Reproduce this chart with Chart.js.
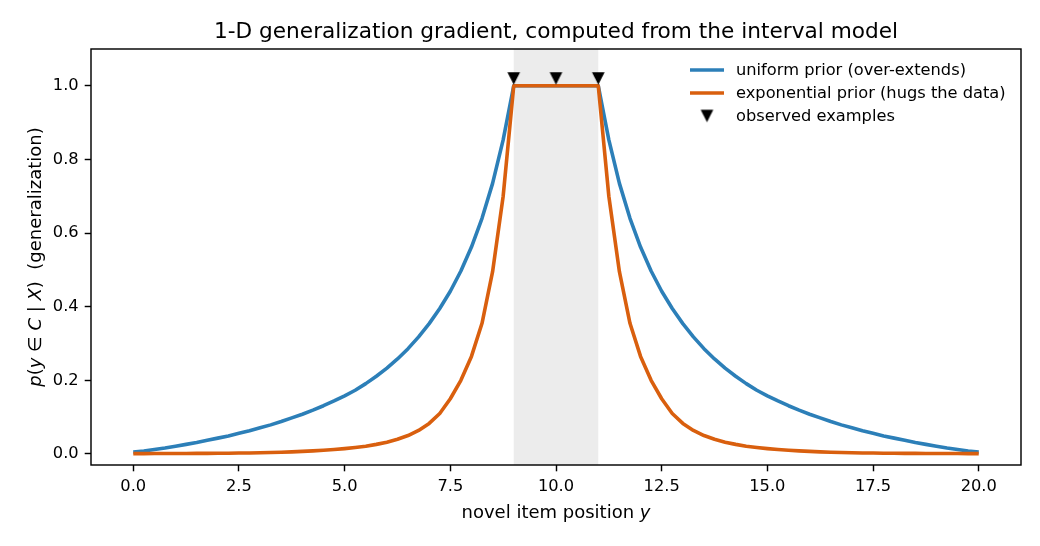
<!DOCTYPE html>
<html><head><meta charset="utf-8">
<script src="https://cdn.jsdelivr.net/npm/chart.js@4.4.1/dist/chart.umd.min.js"></script>
<style>html,body{margin:0;padding:0;background:#fff;}#wrap{width:1040px;height:546px;}</style>
</head><body><div id="wrap"><canvas id="c" width="1040" height="546"></canvas></div>
<script>
// ---- data ----
const positions = [0,0.25,0.5,0.75,1,1.25,1.5,1.75,2,2.25,2.5,2.75,3,3.25,3.5,3.75,4,4.25,4.5,4.75,5,5.25,5.5,5.75,6,6.25,6.5,6.75,7,7.25,7.5,7.75,8,8.25,8.5,8.75,9,9.25,9.5,9.75,10,10.25,10.5,10.75,11,11.25,11.5,11.75,12,12.25,12.5,12.75,13,13.25,13.5,13.75,14,14.25,14.5,14.75,15,15.25,15.5,15.75,16,16.25,16.5,16.75,17,17.25,17.5,17.75,18,18.25,18.5,18.75,19,19.25,19.5,19.75,20];
const uniformPrior = [0.005,0.008,0.012,0.016,0.021,0.026,0.031,0.037,0.043,0.049,0.056,0.063,0.071,0.079,0.088,0.098,0.108,0.119,0.131,0.144,0.158,0.173,0.191,0.211,0.233,0.258,0.286,0.318,0.354,0.395,0.442,0.497,0.562,0.640,0.735,0.853,1.0,
  1,1,1,1,1,1,1,
  1.0,0.853,0.735,0.640,0.562,0.497,0.442,0.395,0.354,0.318,0.286,0.258,0.233,0.211,0.191,0.173,0.158,0.144,0.131,0.119,0.108,0.098,0.088,0.079,0.071,0.063,0.056,0.049,0.043,0.037,0.031,0.026,0.021,0.016,0.012,0.008,0.005];
const exponentialPrior = [0.001,0.001,0.0011,0.0012,0.0013,0.0014,0.0015,0.0017,0.0019,0.0021,0.0024,0.0028,0.0033,0.0039,0.0047,0.0057,0.0069,0.0083,0.010,0.012,0.0145,0.0175,0.021,0.026,0.032,0.040,0.050,0.064,0.083,0.110,0.150,0.200,0.265,0.355,0.495,0.700,1.0,
  1,1,1,1,1,1,1,
  1.0,0.700,0.495,0.355,0.265,0.200,0.150,0.110,0.083,0.064,0.050,0.040,0.032,0.026,0.021,0.0175,0.0145,0.012,0.010,0.0083,0.0069,0.0057,0.0047,0.0039,0.0033,0.0028,0.0024,0.0021,0.0019,0.0017,0.0015,0.0014,0.0013,0.0012,0.0011,0.001,0.001];
const exampleX = [9, 10, 11];
const exampleY = [1.02, 1.02, 1.02];
const spanRange = [9, 11];
const xTicks = [0, 2.5, 5, 7.5, 10, 12.5, 15, 17.5, 20];
const yTicks = [0, 0.2, 0.4, 0.6, 0.8, 1.0];
const seriesLabels = ['uniform prior (over-extends)', 'exponential prior (hugs the data)', 'observed examples'];
const titleText = '1-D generalization gradient, computed from the interval model';

// ---- styles ----
const FONT = '"DejaVu Sans"';
const BLUE = '#2c7fb8', ORANGE = '#d95f0e';
const LW = 3.6;

function makeTri(s) {
  const c = document.createElement('canvas');
  const n = Math.ceil(s) + 2; c.width = n; c.height = n;
  const g = c.getContext('2d'); const h = n / 2;
  g.fillStyle = '#000'; g.beginPath();
  g.moveTo(h - s / 2, h - s / 2); g.lineTo(h + s / 2, h - s / 2); g.lineTo(h, h + s / 2);
  g.closePath(); g.fill();
  return c;
}
const tri = makeTri(12.6);

function drawRich(ctx, segs, size, x, y, rot) {
  ctx.save(); ctx.translate(x, y); ctx.rotate(rot);
  ctx.textBaseline = 'alphabetic'; ctx.textAlign = 'left'; ctx.fillStyle = '#000';
  let total = 0; const ws = [];
  for (const s of segs) { ctx.font = (s.i ? 'italic ' : '') + size + 'px ' + FONT; const w = ctx.measureText(s.t).width; ws.push(w); total += w; }
  let cx = -total / 2;
  segs.forEach((s, k) => { ctx.font = (s.i ? 'italic ' : '') + size + 'px ' + FONT; ctx.fillText(s.t, cx, 0); cx += ws[k]; });
  ctx.restore();
}

const deco = {
  id: 'deco',
  beforeDatasetsDraw(chart) {
    const { ctx, chartArea: a, scales: { x } } = chart;
    ctx.save();
    ctx.fillStyle = 'rgba(128,128,128,0.15)';
    const x0 = x.getPixelForValue(spanRange[0]), x1 = x.getPixelForValue(spanRange[1]);
    ctx.fillRect(x0, a.top, x1 - x0, a.bottom - a.top);
    ctx.restore();
  },
  afterDraw(chart) {
    const { ctx, chartArea: a } = chart;
    ctx.save();
    ctx.strokeStyle = '#000'; ctx.lineWidth = 1.44;
    ctx.strokeRect(a.left, a.top, a.right - a.left, a.bottom - a.top);
    // title
    ctx.fillStyle = '#000'; ctx.textAlign = 'center'; ctx.textBaseline = 'alphabetic';
    ctx.font = '21.67px ' + FONT;
    ctx.fillText(titleText, (a.left + a.right) / 2, 38);
    ctx.restore();
    // axis labels
    drawRich(ctx, [{t: 'novel item position '}, {t: 'y', i: 1}], 18, (a.left + a.right) / 2, 518, 0);
    drawRich(ctx, [{t: 'p', i: 1}, {t: '('}, {t: 'y', i: 1}, {t: ' ∈ '}, {t: 'C', i: 1}, {t: ' | '}, {t: 'X', i: 1}, {t: ')'}, {t: '  (generalization)'}],
      18, 41, (a.top + a.bottom) / 2, -Math.PI / 2);
    // legend
    ctx.save();
    const rows = [70, 93, 116];
    const hx0 = 690, hx1 = 724, tx = 736;
    ctx.lineWidth = LW; ctx.lineCap = 'butt';
    [BLUE, ORANGE].forEach((c, k) => {
      ctx.strokeStyle = c; ctx.beginPath(); ctx.moveTo(hx0, rows[k]); ctx.lineTo(hx1, rows[k]); ctx.stroke();
    });
    ctx.drawImage(tri, (hx0 + hx1) / 2 - tri.width / 2, rows[2] - tri.height / 2);
    ctx.fillStyle = '#000'; ctx.font = '16.25px ' + FONT; ctx.textAlign = 'left'; ctx.textBaseline = 'middle';
    seriesLabels.forEach((t, k) => ctx.fillText(t, tx, rows[k] + 1));
    ctx.restore();
  }
};

const tickFont = { family: FONT, size: 16.25 };
const gridCfg = { drawOnChartArea: false, drawTicks: true, tickLength: 6.3, tickWidth: 1.44, tickColor: '#000', color: '#000' };

new Chart(document.getElementById('c'), {
  type: 'line',
  data: {
    datasets: [
      { type: 'scatter', label: seriesLabels[2], data: exampleX.map((v, i) => ({ x: v, y: exampleY[i] })),
        pointStyle: tri, pointRadius: 7, showLine: false, order: 1, clip: false },
      { label: seriesLabels[1], data: positions.map((v, i) => ({ x: v, y: exponentialPrior[i] })),
        borderColor: ORANGE, borderWidth: LW, pointRadius: 0, tension: 0, fill: false, borderJoinStyle: 'round', order: 2 },
      { label: seriesLabels[0], data: positions.map((v, i) => ({ x: v, y: uniformPrior[i] })),
        borderColor: BLUE, borderWidth: LW, pointRadius: 0, tension: 0, fill: false, borderJoinStyle: 'round', order: 3 }
    ]
  },
  options: {
    responsive: false, animation: false, devicePixelRatio: 1,
    layout: { padding: { top: 49, right: 19, bottom: 0, left: 0 } },
    plugins: { legend: { display: false }, title: { display: false }, tooltip: { enabled: false } },
    scales: {
      x: {
        type: 'linear', min: -1, max: 21,
        afterBuildTicks: s => { s.ticks = xTicks.map(v => ({ value: v })); },
        afterFit: s => { s.height = 81; },
        grid: gridCfg, border: { display: false },
        ticks: { font: tickFont, color: '#000', padding: 6, maxRotation: 0, autoSkip: false, callback: v => Number(v).toFixed(1) }
      },
      y: {
        type: 'linear', min: -0.03, max: 1.1,
        afterBuildTicks: s => { s.ticks = yTicks.map(v => ({ value: v })); },
        afterFit: s => { s.width = 91; },
        grid: gridCfg, border: { display: false },
        ticks: { font: tickFont, color: '#000', padding: 6, autoSkip: false, callback: v => Number(v).toFixed(1) }
      }
    }
  },
  plugins: [deco]
});
</script>
</body></html>
